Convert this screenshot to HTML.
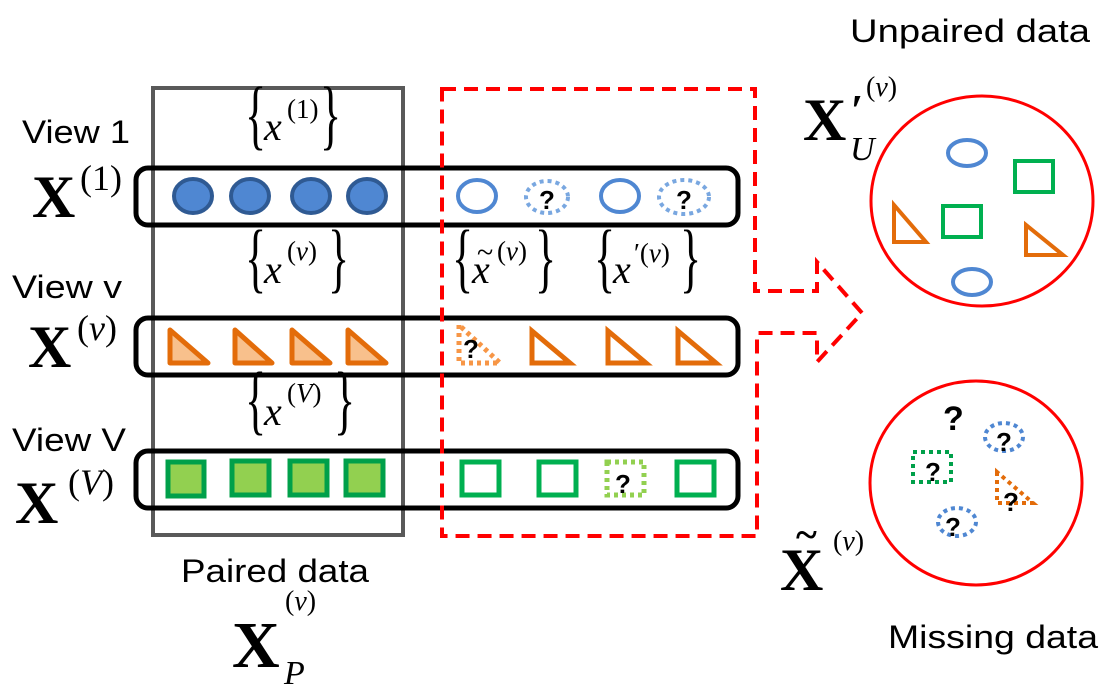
<!DOCTYPE html>
<html><head><meta charset="utf-8"><style>
html,body{margin:0;padding:0;background:#fff;}
svg{display:block;}
.lab{font-family:"Liberation Sans",sans-serif;font-size:32px;fill:#000;}
.X{font-family:"Liberation Serif",serif;font-weight:bold;fill:#000;}
.m{font-family:"Liberation Serif",serif;fill:#000;}
.q{font-family:"Liberation Sans",sans-serif;font-weight:bold;fill:#000;}
</style></head><body>
<svg width="1109" height="689" viewBox="0 0 1109 689" xmlns="http://www.w3.org/2000/svg">
<rect x="153" y="88" width="250" height="447" fill="none" stroke="#595959" stroke-width="4"/>
<g fill="none" stroke="#000" stroke-width="5">
<rect x="136" y="168" width="602" height="57" rx="12"/>
<rect x="136" y="318" width="602" height="57" rx="12"/>
<rect x="136" y="451" width="602" height="57" rx="12"/>
</g>
<path d="M442,89 H755 V291 H817 V262 L862,313 L817,362 V333 H757 V536 H442 Z" fill="none" stroke="#ff0000" stroke-width="4" stroke-dasharray="14,8"/>
<g fill="#4f87d2" stroke="#2f5a93" stroke-width="4">
<ellipse cx="193" cy="196" rx="19" ry="17"/><ellipse cx="250" cy="196" rx="19" ry="17"/>
<ellipse cx="311" cy="196" rx="19" ry="17"/><ellipse cx="367" cy="196" rx="19" ry="17"/>
</g>
<g fill="none" stroke="#4f87d2" stroke-width="4">
<ellipse cx="477" cy="196" rx="19" ry="16"/><ellipse cx="620" cy="196" rx="19" ry="16"/>
</g>
<g fill="none" stroke="#79a7e0" stroke-width="4" stroke-dasharray="4,4">
<ellipse cx="547" cy="197" rx="21" ry="16"/><ellipse cx="684" cy="197" rx="25" ry="17"/>
</g>
<text class="q" x="539" y="209" font-size="26">?</text><text class="q" x="676" y="209" font-size="26">?</text>
<g fill="#f8c08c" stroke="#e36c0a" stroke-width="5" stroke-linejoin="round">
<path d="M170,330 V363 H208 Z"/><path d="M235,330 V363 H272 Z"/><path d="M292,330 V363 H330 Z"/><path d="M348,330 V363 H386 Z"/>
</g>
<g fill="none" stroke="#e36c0a" stroke-width="5">
<path d="M532,331 V363 H570 Z"/><path d="M608,331 V363 H646 Z"/><path d="M678,331 V363 H716 Z"/>
</g>
<path d="M459,325 V363 H500 Z" fill="none" stroke="#f79646" stroke-width="5" stroke-dasharray="4,4"/>
<text class="q" x="463" y="358" font-size="26">?</text>
<g fill="#92d050" stroke="#00a04a" stroke-width="5">
<rect x="168" y="462" width="36" height="34"/><rect x="232" y="461" width="37" height="34"/>
<rect x="290" y="461" width="37" height="34"/><rect x="346" y="461" width="37" height="34"/>
</g>
<g fill="none" stroke="#00b050" stroke-width="5">
<rect x="462" y="462" width="37" height="33"/><rect x="539" y="462" width="37" height="33"/><rect x="677" y="462" width="37" height="33"/>
</g>
<rect x="607" y="462" width="37" height="33" fill="none" stroke="#92d050" stroke-width="5" stroke-dasharray="4,4"/>
<text class="q" x="615" y="493" font-size="26">?</text>
<text class="lab" x="22" y="143" textLength="108" lengthAdjust="spacingAndGlyphs">View 1</text>
<text class="lab" x="12" y="298" textLength="110" lengthAdjust="spacingAndGlyphs">View v</text>
<text class="lab" x="12" y="451" textLength="114" lengthAdjust="spacingAndGlyphs">View V</text>
<text class="X" x="32" y="217" font-size="60">X</text><text class="m" x="80" y="190" font-size="36">(1)</text>
<text class="X" x="28" y="367" font-size="60">X</text><text class="m" x="77" y="340" font-size="36">(<tspan font-style="italic">v</tspan>)</text>
<text class="X" x="15" y="523" font-size="60">X</text><text class="m" x="68" y="494" font-size="36">(<tspan font-style="italic">V</tspan>)</text>
<g class="m">
<text transform="translate(245,140) scale(1,1.75)" font-size="44">{</text>
<text x="264" y="140" font-size="40" font-style="italic">x</text><text x="287" y="118" font-size="27">(1)</text>
<text transform="translate(320,140) scale(1,1.75)" font-size="44">}</text>

<text transform="translate(245,283) scale(1,1.75)" font-size="44">{</text>
<text x="264" y="283" font-size="40" font-style="italic">x</text><text x="287" y="260" font-size="27">(<tspan font-style="italic">v</tspan>)</text>
<text transform="translate(328,283) scale(1,1.75)" font-size="44">}</text>

<text transform="translate(245,425) scale(1,1.75)" font-size="44">{</text>
<text x="264" y="425" font-size="40" font-style="italic">x</text><text x="287" y="402" font-size="27">(<tspan font-style="italic">V</tspan>)</text>
<text transform="translate(334,425) scale(1,1.75)" font-size="44">}</text>

<text transform="translate(452,283) scale(1,1.75)" font-size="44">{</text>
<text x="472" y="283" font-size="40" font-style="italic">x</text><text x="477" y="262" font-size="30">~</text><text x="497" y="260" font-size="27">(<tspan font-style="italic">v</tspan>)</text>
<text transform="translate(535,283) scale(1,1.75)" font-size="44">}</text>

<text transform="translate(594,283) scale(1,1.75)" font-size="44">{</text>
<text x="613" y="283" font-size="40" font-style="italic">x</text><text x="634" y="262" font-size="27">′(<tspan font-style="italic">v</tspan>)</text>
<text transform="translate(680,283) scale(1,1.75)" font-size="44">}</text>
</g>
<text class="lab" x="181" y="582" textLength="188" lengthAdjust="spacingAndGlyphs">Paired data</text>
<text class="X" x="232" y="667" font-size="66">X</text>
<text class="m" x="285" y="610" font-size="28">(<tspan font-style="italic">v</tspan>)</text>
<text class="m" x="284" y="684" font-size="34" font-style="italic">P</text>
<text class="lab" x="850" y="42" textLength="240" lengthAdjust="spacingAndGlyphs">Unpaired data</text>
<text class="lab" x="888" y="648" textLength="210" lengthAdjust="spacingAndGlyphs">Missing data</text>
<text class="X" x="803" y="140" font-size="60">X</text>
<text class="X" x="851" y="125" font-size="44">′</text>
<text class="m" x="866" y="96" font-size="28">(<tspan font-style="italic">v</tspan>)</text>
<text class="m" x="850" y="160" font-size="34" font-style="italic">U</text>
<text class="X" x="780" y="590" font-size="60">X</text>
<text class="X" x="796" y="548" font-size="40">~</text>
<text class="m" x="833" y="550" font-size="28">(<tspan font-style="italic">v</tspan>)</text>
<ellipse cx="982" cy="201" rx="111" ry="105" fill="none" stroke="#ff0000" stroke-width="3"/>
<ellipse cx="976" cy="483" rx="106" ry="102" fill="none" stroke="#ff0000" stroke-width="3"/>
<g fill="none" stroke-width="4">
<ellipse cx="967" cy="153" rx="19" ry="13" stroke="#4f87d2"/>
<ellipse cx="972" cy="282" rx="19" ry="13" stroke="#4f87d2"/>
<rect x="1015" y="161" width="38" height="31" stroke="#00b050"/>
<rect x="943" y="206" width="38" height="31" stroke="#00b050"/>
<path d="M894,205 V242 H926 Z" stroke="#e36c0a"/>
<path d="M1026,225 V255 H1063 Z" stroke="#e36c0a"/>
</g>
<text class="q" x="943" y="430" font-size="34">?</text>
<g fill="none" stroke-width="4" stroke-dasharray="4,4">
<ellipse cx="1004" cy="437" rx="19" ry="14" stroke="#4f87d2"/>
<ellipse cx="957" cy="522" rx="19" ry="14" stroke="#4f87d2"/>
<rect x="913" y="452" width="38" height="30" stroke="#00a04a"/>
<path d="M997,472 V503 H1033 Z" stroke="#e36c0a"/>
</g>
<text class="q" x="996" y="451" font-size="26">?</text>
<text class="q" x="945" y="536" font-size="26">?</text>
<text class="q" x="925" y="481" font-size="26">?</text>
<text class="q" x="1003" y="511" font-size="26">?</text>
</svg>
</body></html>
